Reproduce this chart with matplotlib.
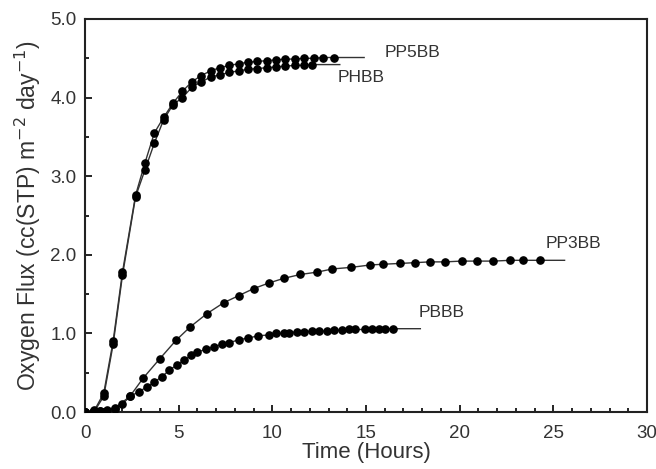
import matplotlib
matplotlib.use("Agg")
import matplotlib.pyplot as plt
from matplotlib.ticker import MultipleLocator, FormatStrFormatter

plt.rcParams['font.family'] = ['Liberation Sans', 'DejaVu Sans']

# ---- data ----
pp5bb_t = [0, 0.5, 1.0, 1.5, 2.0, 2.7, 3.2, 3.7, 4.2, 4.7, 5.2, 5.7, 6.2, 6.7,
           7.2, 7.7, 8.2, 8.7, 9.2, 9.7, 10.2, 10.7, 11.2, 11.7, 12.2, 12.7, 13.3]
pp5bb_v = [0, 0.02, 0.24, 0.9, 1.78, 2.76, 3.17, 3.55, 3.75, 3.93, 4.08, 4.2, 4.28, 4.34,
           4.38, 4.41, 4.43, 4.45, 4.46, 4.47, 4.48, 4.49, 4.49, 4.50, 4.50, 4.51, 4.51]
pp5bb_end = 14.9

phbb_t = [0, 0.5, 1.0, 1.5, 2.0, 2.7, 3.2, 3.7, 4.2, 4.7, 5.2, 5.7, 6.2, 6.7,
          7.2, 7.7, 8.2, 8.7, 9.2, 9.7, 10.2, 10.7, 11.2, 11.7, 12.1]
phbb_v = [0, 0.01, 0.2, 0.86, 1.74, 2.74, 3.08, 3.42, 3.72, 3.91, 4.0, 4.13, 4.2, 4.26,
          4.29, 4.32, 4.34, 4.36, 4.37, 4.38, 4.39, 4.40, 4.41, 4.41, 4.42]
phbb_end = 13.6

pp3bb_t = [0, 0.8, 1.6, 2.4, 3.1, 4.0, 4.85, 5.6, 6.5, 7.4,
           8.2, 9.0, 9.8, 10.6, 11.5, 12.4, 13.2, 14.2, 15.2, 15.9,
           16.8, 17.6, 18.4, 19.2, 20.1, 20.9, 21.8, 22.7, 23.4, 24.3]
pp3bb_v = [0, 0.01, 0.05, 0.2, 0.43, 0.68, 0.91, 1.08, 1.25, 1.39,
           1.48, 1.57, 1.64, 1.70, 1.75, 1.78, 1.82, 1.84, 1.87, 1.88,
           1.89, 1.90, 1.91, 1.91, 1.92, 1.92, 1.92, 1.93, 1.93, 1.93]
pp3bb_end = 25.6

pbbb_t = [0, 0.4, 0.8, 1.2, 1.6, 2.0, 2.4, 2.9, 3.3, 3.7,
          4.1, 4.5, 4.9, 5.3, 5.65, 6.0, 6.45, 6.9, 7.3, 7.7,
          8.2, 8.7, 9.25, 9.8, 10.2, 10.6, 10.9, 11.3, 11.7, 12.1,
          12.5, 12.9, 13.3, 13.7, 14.1, 14.4, 14.95, 15.3, 15.7, 16.0, 16.45]
pbbb_v = [0, 0, 0.01, 0.02, 0.04, 0.1, 0.2, 0.26, 0.32, 0.38,
          0.45, 0.53, 0.6, 0.66, 0.72, 0.76, 0.80, 0.83, 0.86, 0.88,
          0.92, 0.94, 0.97, 0.98, 1.0, 1.0, 1.01, 1.02, 1.02, 1.03,
          1.03, 1.03, 1.04, 1.04, 1.05, 1.05, 1.05, 1.05, 1.06, 1.06, 1.06]
pbbb_end = 17.9

labels = ["PP5BB", "PHBB", "PP3BB", "PBBB"]
label_pos = [(16.0, 4.58), (13.5, 4.25), (24.6, 2.15), (17.8, 1.26)]

series = [(pp5bb_t, pp5bb_v, pp5bb_end), (phbb_t, phbb_v, phbb_end),
          (pp3bb_t, pp3bb_v, pp3bb_end), (pbbb_t, pbbb_v, pbbb_end)]

fig = plt.figure(figsize=(6.56, 4.69), dpi=100)
ax = fig.add_axes([0.1296, 0.1215, 0.8567, 0.838])

for t, v, tend in series:
    ax.plot(list(t) + [tend], list(v) + [v[-1]], color='#333333', lw=1.0, zorder=2)
    ax.plot(t, v, 'o', color='black', markersize=5.2, zorder=3)

for lab, (x, y) in zip(labels, label_pos):
    ax.text(x, y, lab, fontsize=12.5, color='#333333', ha='left', va='center')

ax.set_xlim(0, 30)
ax.set_ylim(0, 5)
ax.xaxis.set_major_locator(MultipleLocator(5))
ax.xaxis.set_minor_locator(MultipleLocator(1))
ax.yaxis.set_major_locator(MultipleLocator(1))
ax.yaxis.set_minor_locator(MultipleLocator(0.5))
ax.yaxis.set_major_formatter(FormatStrFormatter('%.1f'))
ax.tick_params(which='both', direction='in', top=False, right=False,
               labelsize=13.5, labelcolor='#333333', width=1.2)
ax.tick_params(which='major', length=5)
ax.tick_params(axis='x', which='major', pad=9)
ax.tick_params(axis='y', which='major', pad=6)
ax.tick_params(which='minor', length=3)
for s in ax.spines.values():
    s.set_linewidth(1.5)
    s.set_color('#222222')

ax.set_xlabel('Time (Hours)', fontsize=16, color='#333333', labelpad=0)
ax.set_ylabel('Oxygen Flux (cc(STP) m$^{-2}$ day$^{-1}$)', fontsize=16.5,
              color='#333333', labelpad=5)

fig.savefig('out.png', dpi=100)
